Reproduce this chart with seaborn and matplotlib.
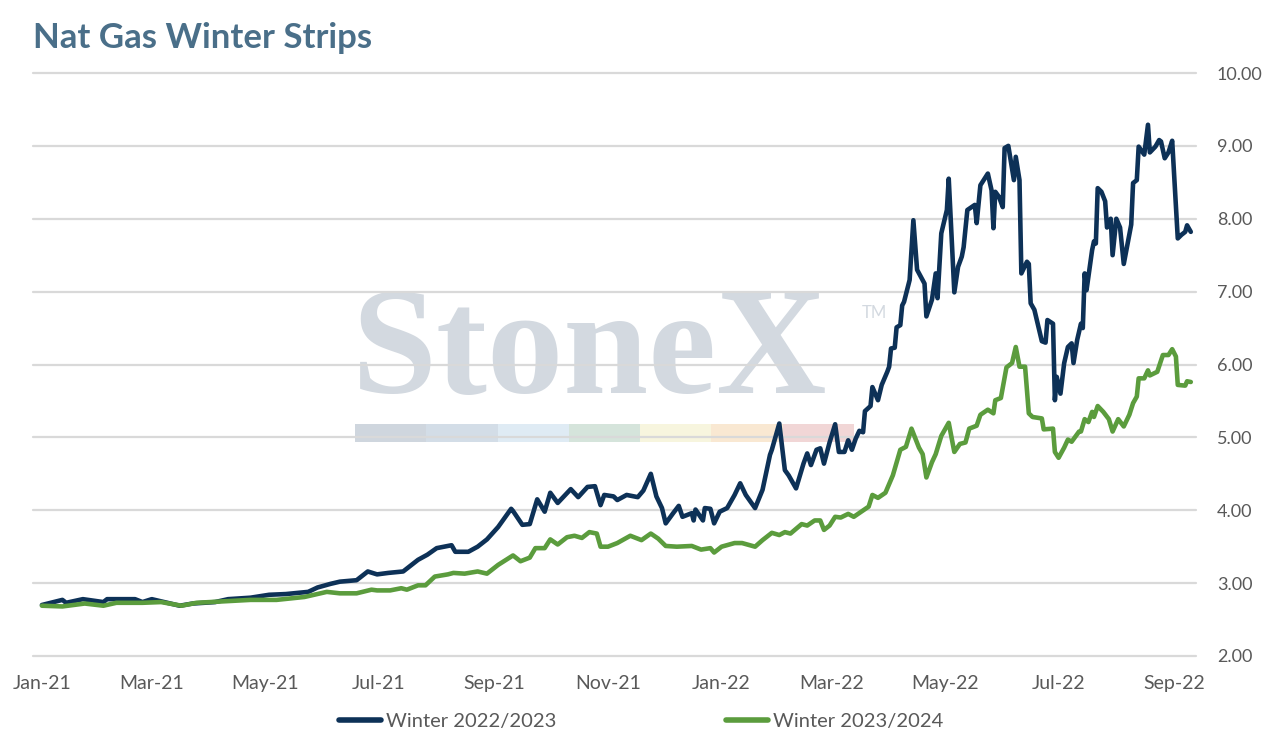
import pandas as pd
import matplotlib
matplotlib.use("Agg")
import matplotlib.pyplot as plt
import matplotlib.dates as mdates
from matplotlib.patches import Rectangle
import seaborn as sns

# Winter 2022/2023 strip
w2223_dates = [
    "2021-01-01", "2021-01-12", "2021-01-14", "2021-01-23", "2021-02-03", "2021-02-05",
    "2021-02-20", "2021-02-24", "2021-03-01", "2021-03-16", "2021-03-23", "2021-04-04",
    "2021-04-11", "2021-04-23", "2021-05-03", "2021-05-12", "2021-05-24", "2021-05-29",
    "2021-06-05", "2021-06-10", "2021-06-19", "2021-06-25", "2021-06-30", "2021-07-06",
    "2021-07-14", "2021-07-22", "2021-07-27", "2021-08-01", "2021-08-09", "2021-08-11",
    "2021-08-18", "2021-08-23", "2021-08-28", "2021-09-03", "2021-09-10", "2021-09-11",
    "2021-09-16", "2021-09-20", "2021-09-24", "2021-09-28", "2021-10-01", "2021-10-05",
    "2021-10-12", "2021-10-16", "2021-10-21", "2021-10-25", "2021-10-28", "2021-10-30",
    "2021-11-04", "2021-11-06", "2021-11-11", "2021-11-17", "2021-11-20", "2021-11-24",
    "2021-11-27", "2021-11-30", "2021-12-02", "2021-12-06", "2021-12-09", "2021-12-11",
    "2021-12-16", "2021-12-17", "2021-12-18", "2021-12-22", "2021-12-23", "2021-12-26",
    "2021-12-28", "2021-12-31", "2022-01-04", "2022-01-08", "2022-01-11", "2022-01-14",
    "2022-01-19", "2022-01-23", "2022-01-27", "2022-01-28", "2022-02-01", "2022-02-04",
    "2022-02-06", "2022-02-10", "2022-02-14", "2022-02-16", "2022-02-18", "2022-02-21",
    "2022-02-23", "2022-02-25", "2022-02-28", "2022-03-03", "2022-03-05", "2022-03-08",
    "2022-03-10", "2022-03-12", "2022-03-14", "2022-03-16", "2022-03-18", "2022-03-19",
    "2022-03-22", "2022-03-23", "2022-03-26", "2022-03-28", "2022-03-31", "2022-04-01",
    "2022-04-02", "2022-04-04", "2022-04-05", "2022-04-07", "2022-04-08", "2022-04-09",
    "2022-04-12", "2022-04-14", "2022-04-16", "2022-04-20", "2022-04-21", "2022-04-24",
    "2022-04-26", "2022-04-27", "2022-04-29", "2022-05-02", "2022-05-03", "2022-05-06",
    "2022-05-08", "2022-05-10", "2022-05-11", "2022-05-13", "2022-05-17", "2022-05-18",
    "2022-05-20", "2022-05-24", "2022-05-26", "2022-05-27", "2022-05-28", "2022-05-30",
    "2022-06-01", "2022-06-02", "2022-06-04", "2022-06-07", "2022-06-08", "2022-06-10",
    "2022-06-11", "2022-06-14", "2022-06-15", "2022-06-16", "2022-06-18", "2022-06-22",
    "2022-06-24", "2022-06-25", "2022-06-28", "2022-06-29", "2022-06-30", "2022-07-02",
    "2022-07-04", "2022-07-06", "2022-07-08", "2022-07-09", "2022-07-11", "2022-07-13",
    "2022-07-14", "2022-07-15", "2022-07-16", "2022-07-19", "2022-07-20", "2022-07-21",
    "2022-07-22", "2022-07-24", "2022-07-26", "2022-07-27", "2022-07-29", "2022-07-30",
    "2022-08-01", "2022-08-03", "2022-08-05", "2022-08-07", "2022-08-09", "2022-08-10",
    "2022-08-12", "2022-08-13", "2022-08-16", "2022-08-18", "2022-08-19", "2022-08-22",
    "2022-08-24", "2022-08-25", "2022-08-27", "2022-08-29", "2022-08-31", "2022-09-03",
    "2022-09-05", "2022-09-07", "2022-09-08", "2022-09-10",
]
w2223_values = [
    2.70, 2.77, 2.73, 2.78, 2.74, 2.78,
    2.78, 2.74, 2.78, 2.69, 2.72, 2.74,
    2.78, 2.80, 2.84, 2.85, 2.88, 2.94,
    2.99, 3.02, 3.04, 3.16, 3.12, 3.14,
    3.16, 3.32, 3.39, 3.48, 3.52, 3.43,
    3.43, 3.50, 3.60, 3.77, 4.02, 3.99,
    3.80, 3.81, 4.15, 3.98, 4.24, 4.10,
    4.29, 4.18, 4.32, 4.33, 4.07, 4.21,
    4.19, 4.14, 4.21, 4.18, 4.27, 4.50,
    4.19, 4.03, 3.82, 3.96, 4.06, 3.91,
    3.96, 3.86, 4.01, 3.86, 4.03, 4.02,
    3.82, 3.98, 4.03, 4.21, 4.37, 4.21,
    4.03, 4.28, 4.76, 4.83, 5.19, 4.55,
    4.48, 4.30, 4.64, 4.78, 4.62, 4.83,
    4.85, 4.64, 4.93, 5.18, 4.80, 4.80,
    4.96, 4.83, 4.98, 5.09, 5.07, 5.36,
    5.43, 5.69, 5.51, 5.72, 5.90, 5.97,
    6.22, 6.23, 6.51, 6.54, 6.81, 6.86,
    7.16, 7.98, 7.30, 7.11, 6.66, 6.89,
    7.25, 6.91, 7.80, 8.12, 8.55, 6.99,
    7.34, 7.48, 7.61, 8.12, 8.19, 7.94,
    8.46, 8.62, 8.39, 7.87, 8.37, 8.30,
    8.16, 8.97, 9.00, 8.53, 8.85, 8.53,
    7.25, 7.41, 7.38, 6.84, 6.75, 6.32,
    6.30, 6.61, 6.56, 5.51, 5.83, 5.60,
    6.02, 6.24, 6.29, 6.02, 6.34, 6.56,
    6.50, 7.25, 7.02, 7.57, 7.69, 7.66,
    8.42, 8.37, 8.24, 7.88, 8.00, 7.50,
    8.00, 7.88, 7.38, 7.65, 7.92, 8.49,
    8.53, 8.99, 8.88, 9.29, 8.91, 8.99,
    9.08, 9.06, 8.83, 8.91, 9.07, 7.73,
    7.78, 7.82, 7.91, 7.82,
]

# Winter 2023/2024 strip
w2324_dates = [
    "2021-01-01", "2021-01-12", "2021-01-24", "2021-02-03", "2021-02-10", "2021-02-24",
    "2021-03-06", "2021-03-17", "2021-03-25", "2021-04-08", "2021-04-23", "2021-05-07",
    "2021-05-22", "2021-06-03", "2021-06-10", "2021-06-19", "2021-06-27", "2021-06-30",
    "2021-07-07", "2021-07-13", "2021-07-16", "2021-07-22", "2021-07-26", "2021-07-31",
    "2021-08-07", "2021-08-10", "2021-08-16", "2021-08-23", "2021-08-28", "2021-09-03",
    "2021-09-11", "2021-09-15", "2021-09-20", "2021-09-23", "2021-09-28", "2021-10-01",
    "2021-10-05", "2021-10-10", "2021-10-14", "2021-10-18", "2021-10-22", "2021-10-26",
    "2021-10-28", "2021-11-01", "2021-11-06", "2021-11-13", "2021-11-19", "2021-11-24",
    "2021-11-28", "2021-12-02", "2021-12-08", "2021-12-16", "2021-12-21", "2021-12-26",
    "2021-12-28", "2022-01-01", "2022-01-08", "2022-01-12", "2022-01-19", "2022-01-23",
    "2022-01-28", "2022-02-01", "2022-02-04", "2022-02-07", "2022-02-13", "2022-02-16",
    "2022-02-20", "2022-02-23", "2022-02-25", "2022-02-28", "2022-03-03", "2022-03-06",
    "2022-03-10", "2022-03-13", "2022-03-17", "2022-03-21", "2022-03-23", "2022-03-26",
    "2022-03-30", "2022-04-03", "2022-04-07", "2022-04-10", "2022-04-13", "2022-04-17",
    "2022-04-19", "2022-04-21", "2022-04-24", "2022-04-26", "2022-04-29", "2022-05-03",
    "2022-05-06", "2022-05-09", "2022-05-12", "2022-05-14", "2022-05-18", "2022-05-20",
    "2022-05-24", "2022-05-27", "2022-05-28", "2022-05-31", "2022-06-03", "2022-06-06",
    "2022-06-08", "2022-06-10", "2022-06-13", "2022-06-15", "2022-06-17", "2022-06-22",
    "2022-06-23", "2022-06-28", "2022-06-29", "2022-07-01", "2022-07-04", "2022-07-06",
    "2022-07-08", "2022-07-12", "2022-07-13", "2022-07-15", "2022-07-17", "2022-07-19",
    "2022-07-20", "2022-07-22", "2022-07-25", "2022-07-28", "2022-07-30", "2022-08-02",
    "2022-08-05", "2022-08-08", "2022-08-10", "2022-08-12", "2022-08-13", "2022-08-16",
    "2022-08-18", "2022-08-19", "2022-08-23", "2022-08-26", "2022-08-29", "2022-08-31",
    "2022-09-02", "2022-09-03", "2022-09-07", "2022-09-08", "2022-09-10",
]
w2324_values = [
    2.69, 2.68, 2.72, 2.69, 2.73, 2.73,
    2.74, 2.69, 2.73, 2.75, 2.77, 2.77,
    2.81, 2.88, 2.86, 2.86, 2.91, 2.90,
    2.90, 2.93, 2.91, 2.97, 2.97, 3.09,
    3.12, 3.14, 3.13, 3.16, 3.13, 3.25,
    3.38, 3.30, 3.35, 3.48, 3.48, 3.60,
    3.53, 3.63, 3.65, 3.62, 3.70, 3.68,
    3.50, 3.50, 3.55, 3.65, 3.59, 3.68,
    3.61, 3.51, 3.50, 3.51, 3.46, 3.48,
    3.42, 3.50, 3.55, 3.55, 3.50, 3.59,
    3.69, 3.66, 3.70, 3.68, 3.81, 3.79,
    3.86, 3.86, 3.73, 3.79, 3.91, 3.90,
    3.95, 3.91, 3.98, 4.05, 4.21, 4.17,
    4.24, 4.48, 4.83, 4.87, 5.12, 4.86,
    4.77, 4.45, 4.66, 4.77, 5.02, 5.20,
    4.80, 4.91, 4.93, 5.12, 5.16, 5.31,
    5.38, 5.33, 5.51, 5.54, 5.96, 6.02,
    6.24, 5.97, 5.97, 5.33, 5.28, 5.26,
    5.11, 5.12, 4.80, 4.72, 4.86, 4.97,
    4.94, 5.08, 5.08, 5.25, 5.21, 5.35,
    5.28, 5.43, 5.35, 5.25, 5.08, 5.25,
    5.15, 5.31, 5.47, 5.56, 5.81, 5.81,
    5.92, 5.85, 5.90, 6.13, 6.13, 6.21,
    6.11, 5.72, 5.71, 5.77, 5.76,
]

series_names = ["Winter 2022/2023", "Winter 2023/2024"]
series_colors = ["#0d3157", "#5b9c3d"]
y_ticks = [2, 3, 4, 5, 6, 7, 8, 9, 10]

df = pd.concat([
    pd.DataFrame({"date": pd.to_datetime(w2223_dates), "price": w2223_values,
                  "strip": series_names[0]}),
    pd.DataFrame({"date": pd.to_datetime(w2324_dates), "price": w2324_values,
                  "strip": series_names[1]}),
])

sns.set_theme(style="white")
plt.rcParams["font.family"] = ["Lato", "DejaVu Sans"]

W, H = 1274, 743
fig = plt.figure(figsize=(W / 100, H / 100), dpi=100)
ax = fig.add_axes([33 / W, 1 - 656 / H, (1196 - 33) / W, (656 - 73) / H])

# watermark, kept under the grid
wm_color = "#d3d9e0"
ax.text(352 / W, 1 - 393 / H, "StoneX", transform=fig.transFigure,
        family="Liberation Serif", fontweight="bold", fontsize=110, color=wm_color,
        ha="left", va="baseline", zorder=0.1)
ax.text(862 / W, 1 - 318 / H, "TM", transform=fig.transFigure,
        fontsize=12, color=wm_color, ha="left", va="baseline", zorder=0.1)
bar_colors = ["#cfd6de", "#d3dde7", "#dfebf4", "#d5e4db", "#f7f5de", "#f9e8d2", "#f1d6d6"]
seg_w = (854 - 355) / 7
for i, c in enumerate(bar_colors):
    ax.add_patch(Rectangle(((355 + i * seg_w) / W, 1 - 442 / H), seg_w / W, 18 / H,
                           transform=fig.transFigure, facecolor=c, edgecolor="none",
                           zorder=0.1, clip_on=False))

sns.lineplot(data=df, x="date", y="price", hue="strip", hue_order=series_names,
             palette=series_colors, linewidth=3.3, ax=ax, legend=False, zorder=3)

ax.set_ylim(2, 10)
ax.set_yticks(y_ticks)
ax.yaxis.set_major_formatter(matplotlib.ticker.FormatStrFormatter("%.2f"))
ax.yaxis.tick_right()
ax.set_xlim(pd.Timestamp("2020-12-27 05:00"), pd.Timestamp("2022-09-12 19:00"))
ax.xaxis.set_major_locator(mdates.MonthLocator(bymonth=[1, 3, 5, 7, 9, 11]))
ax.xaxis.set_major_formatter(mdates.DateFormatter("%b-%y"))
ax.tick_params(axis="both", length=0, labelcolor="#595959")
ax.tick_params(axis="y", pad=15, labelsize=13)
ax.tick_params(axis="x", pad=14, labelsize=14)
ax.set_xlabel("")
ax.set_ylabel("")
ax.set_axisbelow(True)
ax.grid(axis="y", color="#d9d9d9", linewidth=1.6)
ax.grid(axis="x", visible=False)
for sp in ax.spines.values():
    sp.set_visible(False)
for gl in ax.get_ygridlines():
    gl.set_clip_on(False)

fig.text(33 / W, 1 - 48 / H, "Nat Gas Winter Strips", fontsize=25, fontweight="bold",
         color="#4a6f89", ha="left", va="baseline")

handles = [plt.Line2D([], [], color=c, linewidth=4, solid_capstyle="round")
           for c in series_colors]
fig.legend(handles, series_names, loc="center", bbox_to_anchor=(641 / W, 1 - 721 / H),
           ncol=2, frameon=False, fontsize=14.5, labelcolor="#595959",
           handlelength=2.1, handletextpad=0.25, columnspacing=8.4)

fig.savefig("out.png", dpi=100)
